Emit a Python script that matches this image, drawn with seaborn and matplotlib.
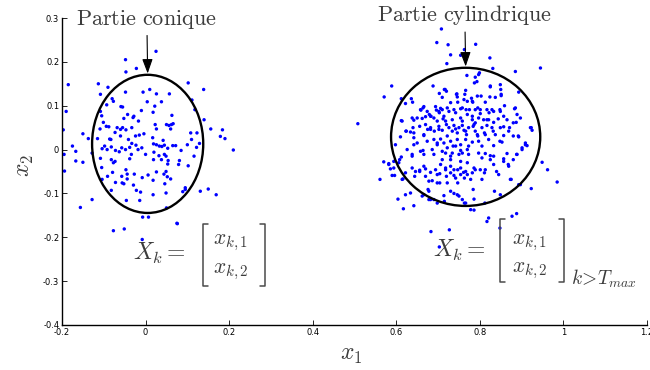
import matplotlib
matplotlib.use("Agg")
import matplotlib.pyplot as plt
import seaborn as sns
import pandas as pd
from matplotlib.patches import Ellipse
from matplotlib import font_manager

# points (x1, x2)
conique_pts = [
    (-0.048, 0.205), (-0.047, 0.177), (-0.022, 0.185), (-0.185, 0.148), (-0.113, 0.150), (-0.090, 0.142), (-0.108, 0.126),
    (-0.080, 0.116), (-0.077, 0.110), (-0.093, 0.102), (-0.048, 0.131), (-0.006, 0.131), (-0.190, 0.087), (-0.108, 0.087),
    (-0.059, 0.098), (-0.055, 0.097), (-0.010, 0.089), (0.004, 0.109), (-0.105, 0.077), (-0.101, 0.062), (-0.043, 0.080),
    (-0.052, 0.071), (-0.030, 0.073), (-0.028, 0.076), (-0.017, 0.065), (-0.197, 0.045), (-0.150, 0.036), (-0.137, 0.025),
    (-0.109, 0.047), (-0.094, 0.053), (-0.088, 0.052), (-0.073, 0.039), (-0.068, 0.050), (-0.060, 0.046), (-0.055, 0.050),
    (-0.047, 0.045), (-0.033, 0.050), (-0.004, 0.036), (-0.115, 0.025), (-0.086, 0.024), (-0.083, 0.023), (-0.060, 0.031),
    (-0.041, 0.023), (-0.024, 0.031), (-0.015, 0.033), (-0.175, 0.008), (-0.167, -0.004), (-0.195, -0.011), (-0.104, 0.002),
    (-0.098, 0.008), (-0.092, 0.000), (-0.082, 0.006), (-0.072, -0.002), (-0.063, -0.005), (-0.057, 0.004), (-0.048, 0.000),
    (-0.038, 0.005), (-0.033, 0.014), (-0.023, 0.010), (-0.018, 0.000), (-0.009, 0.004), (-0.034, -0.011), (-0.128, -0.008),
    (-0.108, -0.020), (-0.082, -0.023), (-0.077, -0.030), (-0.073, -0.027), (-0.038, -0.021), (0.000, -0.011), (-0.150, -0.029),
    (-0.105, -0.041), (-0.194, -0.049), (-0.091, -0.061), (-0.079, -0.052), (-0.057, -0.061), (-0.047, -0.046), (-0.044, -0.056),
    (-0.027, -0.056), (0.006, -0.058), (-0.008, -0.064), (-0.104, -0.068), (-0.072, -0.075), (-0.056, -0.076), (-0.052, -0.078),
    (-0.044, -0.067), (-0.029, -0.081), (-0.082, -0.093), (-0.022, -0.093), (-0.012, -0.097), (-0.128, -0.114), (-0.046, -0.116),
    (-0.014, -0.116), (-0.156, -0.132), (-0.007, -0.154), (0.007, -0.154), (-0.077, -0.185), (-0.051, -0.181), (-0.008, -0.205),
    (0.076, -0.169), (-0.167, -0.026), (0.010, 0.137),
    (0.025, 0.224), (0.102, 0.152), (0.139, 0.137), (0.026, 0.127), (0.057, 0.127), (0.038, 0.109), (0.111, 0.113),
    (0.018, 0.085), (0.022, 0.099), (0.118, 0.091), (0.063, 0.078), (0.140, 0.068), (0.023, 0.057), (0.026, 0.047),
    (0.050, 0.057), (0.056, 0.055), (0.062, 0.057), (0.060, 0.047), (0.066, 0.059), (0.156, 0.047), (0.184, 0.045),
    (0.108, 0.038), (0.123, 0.038), (0.179, 0.030), (0.190, 0.025), (0.017, 0.027), (0.042, 0.021), (0.110, 0.023),
    (0.129, 0.014), (0.019, 0.013), (0.026, 0.011), (0.033, 0.008), (0.039, 0.007), (0.045, 0.010), (0.053, 0.003),
    (0.065, 0.009), (0.072, 0.009), (0.100, 0.011), (0.122, 0.005), (0.085, -0.002), (0.210, -0.001), (0.020, -0.006),
    (0.032, -0.014), (0.045, -0.011), (0.049, -0.015), (0.116, -0.015), (0.019, -0.023), (0.038, -0.023), (0.054, -0.025),
    (0.081, -0.025), (0.053, -0.033), (0.079, -0.034), (0.102, -0.037), (0.026, -0.051), (0.044, -0.056), (0.049, -0.050),
    (0.052, -0.062), (0.060, -0.067), (0.018, -0.070), (0.046, -0.078), (0.095, -0.087), (0.095, -0.091), (0.089, -0.096),
    (0.131, -0.095), (0.150, -0.090), (0.169, -0.103), (0.018, -0.103), (0.049, -0.099), (0.050, -0.133), (0.075, -0.168),
]

cylindrique_pts = [
    (0.708, 0.275), (0.697, 0.244), (0.724, 0.239), (0.790, 0.240), (0.730, 0.216), (0.763, 0.228), (0.824, 0.209),
    (0.721, 0.196), (0.831, 0.185), (0.885, 0.178), (0.945, 0.186), (0.589, 0.145), (0.571, 0.120), (0.612, 0.116),
    (0.508, 0.059), (0.769, 0.169), (0.789, 0.165), (0.793, 0.155), (0.797, 0.171), (0.799, 0.175), (0.688, 0.145),
    (0.825, 0.143), (0.849, 0.148), (0.850, 0.137), (0.851, 0.126), (0.893, 0.131), (0.717, 0.137), (0.720, 0.133),
    (0.745, 0.127), (0.746, 0.120), (0.766, 0.135), (0.764, 0.126), (0.710, 0.119), (0.636, 0.116), (0.639, 0.108),
    (0.780, 0.117), (0.783, 0.108), (0.803, 0.122), (0.813, 0.108), (0.837, 0.119), (0.859, 0.100), (0.622, 0.105),
    (0.658, 0.091), (0.664, 0.095), (0.679, 0.080), (0.683, 0.076), (0.696, 0.090), (0.706, 0.094), (0.703, 0.084),
    (0.722, 0.095), (0.726, 0.087), (0.738, 0.091), (0.742, 0.084), (0.758, 0.095), (0.767, 0.091), (0.770, 0.080),
    (0.789, 0.091), (0.795, 0.095), (0.801, 0.082), (0.822, 0.084), (0.829, 0.091), (0.849, 0.087), (0.857, 0.076),
    (0.885, 0.095), (0.889, 0.080), (0.897, 0.072), (0.638, 0.072), (0.642, 0.067), (0.662, 0.071), (0.670, 0.075),
    (0.690, 0.072), (0.698, 0.065), (0.714, 0.076), (0.718, 0.065), (0.754, 0.072), (0.758, 0.065), (0.782, 0.068),
    (0.789, 0.061), (0.817, 0.068), (0.833, 0.062), (0.880, 0.061), (0.887, 0.062), (0.923, 0.050), (0.925, 0.044),
    (0.612, 0.066), (0.623, 0.042), (0.634, 0.040), (0.640, 0.050), (0.656, 0.053), (0.670, 0.057), (0.675, 0.046),
    (0.691, 0.042), (0.682, 0.050), (0.702, 0.053), (0.710, 0.044), (0.726, 0.050), (0.734, 0.042), (0.738, 0.055),
    (0.742, 0.047), (0.746, 0.038), (0.750, 0.050), (0.762, 0.044), (0.768, 0.034), (0.773, 0.050), (0.784, 0.053),
    (0.789, 0.042), (0.795, 0.031), (0.805, 0.050), (0.811, 0.038), (0.817, 0.055), (0.832, 0.042), (0.837, 0.034),
    (0.849, 0.050), (0.869, 0.042), (0.880, 0.031), (0.909, 0.015), (0.913, 0.009), (0.892, 0.031), (0.598, 0.011),
    (0.610, 0.029), (0.642, 0.027), (0.650, 0.015), (0.666, 0.032), (0.674, 0.019), (0.690, 0.023), (0.698, 0.011),
    (0.706, 0.024), (0.714, 0.015), (0.722, 0.031), (0.730, 0.019), (0.736, 0.008), (0.746, 0.023), (0.754, 0.011),
    (0.766, 0.023), (0.773, 0.008), (0.782, 0.017), (0.797, 0.019), (0.805, 0.008), (0.821, 0.023), (0.833, 0.009),
    (0.848, 0.019), (0.853, 0.017), (0.626, 0.000), (0.638, -0.011), (0.658, -0.004), (0.666, -0.011), (0.686, 0.000),
    (0.690, -0.011), (0.718, -0.008), (0.730, -0.015), (0.750, -0.011), (0.754, -0.002), (0.773, -0.011), (0.797, -0.008),
    (0.813, -0.009), (0.833, -0.015), (0.865, -0.009), (0.889, -0.011),
    (0.570, -0.028), (0.582, -0.032), (0.594, -0.027), (0.608, -0.023), (0.561, -0.068), (0.586, -0.044), (0.596, -0.059),
    (0.614, -0.068), (0.622, -0.053), (0.638, -0.042), (0.644, -0.061), (0.656, -0.050), (0.666, -0.038), (0.670, -0.061),
    (0.678, -0.072), (0.694, -0.046), (0.698, -0.057), (0.704, -0.076), (0.706, -0.034), (0.718, -0.046), (0.720, -0.061),
    (0.730, -0.053), (0.738, -0.046), (0.742, -0.065), (0.747, -0.076), (0.754, -0.042), (0.761, -0.052), (0.763, -0.065),
    (0.770, -0.057), (0.778, -0.068), (0.782, -0.053), (0.786, -0.042), (0.801, -0.046), (0.805, -0.068), (0.811, -0.053),
    (0.825, -0.023), (0.833, -0.034), (0.845, -0.057), (0.857, -0.027), (0.869, -0.038), (0.875, -0.068), (0.901, 0.004),
    (0.909, 0.011), (0.949, -0.029), (0.962, -0.046), (0.985, -0.074), (0.923, -0.089), (0.897, -0.080), (0.835, -0.095),
    (0.849, -0.103), (0.784, -0.091), (0.786, -0.113), (0.730, -0.095), (0.738, -0.100), (0.750, -0.106), (0.758, -0.114),
    (0.763, -0.122), (0.778, -0.137), (0.786, -0.138), (0.676, -0.091), (0.682, -0.114), (0.662, -0.106), (0.666, -0.103),
    (0.690, -0.114), (0.698, -0.122), (0.622, -0.103), (0.642, -0.128), (0.617, -0.135), (0.604, -0.113), (0.714, -0.105),
    (0.715, -0.118), (0.812, -0.122), (0.817, -0.164), (0.821, -0.156), (0.848, -0.179), (0.877, -0.152), (0.888, -0.146),
    (0.683, -0.187), (0.727, -0.183), (0.703, -0.222),
    (0.754, 0.215), (0.703, 0.128), (0.715, 0.137), (0.666, 0.098), (0.659, 0.090), (0.674, 0.087), (0.694, 0.098),
    (0.702, 0.087), (0.710, 0.091), (0.730, 0.107), (0.744, 0.126), (0.747, 0.108), (0.754, 0.093), (0.762, 0.114),
    (0.770, 0.110), (0.775, 0.091), (0.650, 0.072), (0.614, 0.065), (0.682, 0.076), (0.712, 0.070), (0.720, 0.057),
    (0.734, 0.068), (0.758, 0.055), (0.766, 0.042), (0.624, 0.042), (0.642, 0.038), (0.666, 0.034), (0.682, 0.046),
    (0.702, 0.046), (0.787, 0.152), (0.825, 0.145), (0.782, 0.110), (0.794, 0.122), (0.824, 0.120), (0.851, 0.123),
    (0.801, 0.091), (0.817, 0.091), (0.833, 0.087), (0.848, 0.091), (0.883, 0.093), (0.782, 0.076), (0.797, 0.072),
    (0.809, 0.068), (0.821, 0.068), (0.844, 0.070), (0.865, 0.068), (0.786, 0.057), (0.829, 0.050), (0.857, 0.052),
    (0.871, 0.050), (0.921, 0.050), (0.794, 0.034), (0.813, 0.034), (0.857, 0.032), (0.893, 0.029), (0.901, 0.000),
    (0.888, -0.011), (0.873, -0.068), (0.893, -0.080), (0.813, -0.046), (0.840, -0.050), (0.789, -0.046), (0.805, -0.019),
    (0.825, -0.014), (0.857, -0.021), (0.880, -0.023), (0.868, -0.034), (0.582, -0.034), (0.594, -0.042), (0.606, -0.030),
    (0.612, -0.017), (0.590, -0.059), (0.616, -0.067), (0.638, -0.015), (0.642, 0.011), (0.664, -0.002), (0.698, 0.015),
    (0.710, -0.004), (0.722, 0.004), (0.734, -0.008), (0.742, 0.008), (0.758, -0.008), (0.770, 0.000), (0.646, -0.050),
    (0.656, -0.047), (0.670, -0.044), (0.682, -0.052), (0.704, -0.055), (0.718, -0.042), (0.730, -0.038), (0.747, -0.046),
    (0.754, -0.057), (0.766, -0.050), (0.770, -0.030), (0.754, -0.027), (0.730, -0.023), (0.710, -0.023), (0.634, -0.099),
    (0.678, -0.114), (0.678, -0.095), (0.698, -0.076), (0.686, -0.071), (0.722, -0.076), (0.746, -0.103), (0.766, -0.122),
    (0.738, -0.059),
]

# fitted ellipses: centre x, centre y, width, height
ellipse_cx = [0.005, 0.766]
ellipse_cy = [0.013, 0.029]
ellipse_w = [0.266, 0.357]
ellipse_h = [0.315, 0.315]

part_labels = ["Partie conique", "Partie cylindrique"]

x_ticks = [-0.2, 0, 0.2, 0.4, 0.6, 0.8, 1.0, 1.2]
x_ticklabels = ["-0.2", "0", "0.2", "0.4", "0.6", "0.8", "1", "1.2"]
y_ticks = [-0.4, -0.3, -0.2, -0.1, 0, 0.1, 0.2, 0.3]
y_ticklabels = ["-0.4", "-0.3", "-0.2", "-0.1", "0", "0.1", "0.2", "0.3"]

df = pd.concat([
    pd.DataFrame(conique_pts, columns=["x1", "x2"]).assign(part="conique"),
    pd.DataFrame(cylindrique_pts, columns=["x1", "x2"]).assign(part="cylindrique"),
])

sns.set_style("ticks")
plt.rcParams["mathtext.fontset"] = "cm"
plt.rcParams["font.family"] = ["DejaVu Sans"]

names = {f.name for f in font_manager.fontManager.ttflist}
tick_font = "Liberation Sans Narrow" if "Liberation Sans Narrow" in names else "DejaVu Sans"

txt_col = "#3c3c3c"

fig = plt.figure(figsize=(6.5, 3.7), dpi=100)
ax = fig.add_axes([62 / 650, 45 / 370, 585 / 650, 307 / 370])

sns.scatterplot(data=df, x="x1", y="x2", hue="part", palette=["blue", "blue"],
                s=6, linewidth=0, legend=False, ax=ax, zorder=2)

for cx, cy, w, h in zip(ellipse_cx, ellipse_cy, ellipse_w, ellipse_h):
    ax.add_patch(Ellipse((cx, cy), w, h, fill=False, ec="black", lw=1.7, zorder=3))

ax.set_xlim(-0.2, 1.2)
ax.set_ylim(-0.4, 0.3)
ax.set_xticks(x_ticks)
ax.set_xticklabels(x_ticklabels, family=tick_font, fontsize=6)
ax.set_yticks(y_ticks)
ax.set_yticklabels(y_ticklabels, family=tick_font, fontsize=6)
ax.tick_params(direction="in", length=3.5, width=0.6, pad=2, colors="black")
sns.despine(ax=ax)
for s in ["left", "bottom"]:
    ax.spines[s].set_linewidth(1.0)
    ax.spines[s].set_color("black")

ax.set_xlabel("$x_1$", fontsize=17, color=txt_col)
ax.xaxis.set_label_coords(0.494, -0.055)
ax.set_ylabel("$x_2$", fontsize=17, color=txt_col)
ax.yaxis.set_label_coords(-0.044, 0.52)

# annotations with arrows to the top of each ellipse
arrow = dict(arrowstyle="-|>,head_length=0.55,head_width=0.2", color="black", lw=0.8,
             shrinkA=1, shrinkB=0)
for i, lab in enumerate(part_labels):
    top = ellipse_cy[i] + ellipse_h[i] / 2
    ty = [0.297, 0.306][i]
    ax.annotate("$\\mathrm{" + lab.replace(" ", "\\ ") + "}$",
                xy=(ellipse_cx[i], top + 0.003), xytext=(ellipse_cx[i] - 0.002, ty),
                ha="center", va="center", fontsize=16, color=txt_col,
                arrowprops=arrow, annotation_clip=False)


def vec_label(x0, y0, xb0, xb1, yb0, yb1, xe, r1, r2, sub=None):
    ax.text(x0, y0, "$X_k =$", fontsize=17, color=txt_col, ha="left", va="baseline")
    ax.text(xe, r1, "$x_{k,1}$", fontsize=15.5, color=txt_col, ha="left", va="baseline")
    ax.text(xe, r2, "$x_{k,2}$", fontsize=15.5, color=txt_col, ha="left", va="baseline")
    serif = 0.012
    ax.plot([xb0 + serif, xb0, xb0, xb0 + serif], [yb0, yb0, yb1, yb1], color="#4a4a4a", lw=1.1)
    ax.plot([xb1 - serif, xb1, xb1, xb1 - serif], [yb0, yb0, yb1, yb1], color="#4a4a4a", lw=1.1)
    if sub:
        ax.text(xb1 + 0.015, yb1 - 0.008, sub, fontsize=14, color=txt_col,
                ha="left", va="baseline", clip_on=False)


vec_label(-0.030, -0.251, 0.137, 0.286, -0.169, -0.311, 0.161, -0.217, -0.281)
vec_label(0.689, -0.245, 0.849, 1.002, -0.158, -0.301, 0.878, -0.217, -0.280,
          sub="$k\\!>\\!T_{max}$")

fig.savefig("out.png", dpi=100)
